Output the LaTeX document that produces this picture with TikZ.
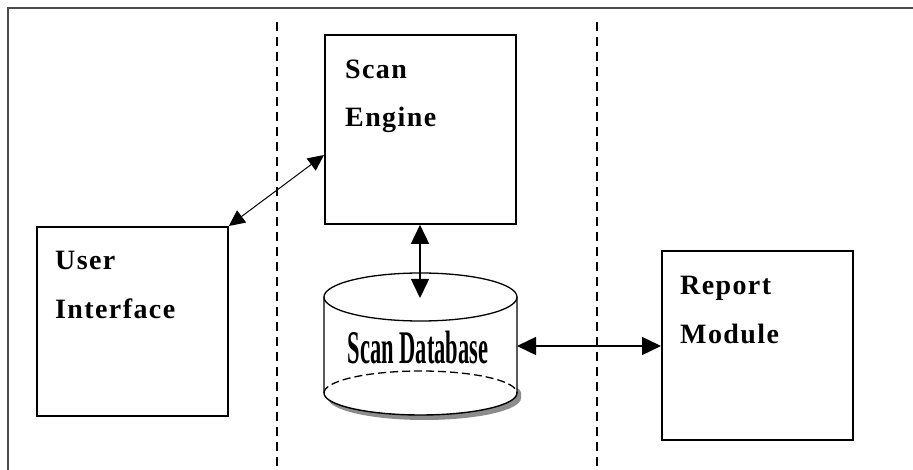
\documentclass[tikz,border=0pt]{standalone}
\usepackage{fontspec}
\setmainfont{Liberation Serif}
\newfontfamily\boxfont[LetterSpace=5]{Liberation Serif}
\usetikzlibrary{arrows.meta}
\newcommand{\boxtext}[1]{\boxfont\fontsize{28}{48}\selectfont\bfseries #1}

\begin{document}
\begin{tikzpicture}[x=1pt,y=-1pt]
    \tikzstyle{module}=[draw, line width=1.8pt, minimum width=191pt, minimum height=189pt, anchor=north west, inner sep=0pt]
    \tikzstyle{label}=[anchor=base west, inner sep=0pt, align=left]
    \tikzstyle{link}=[{Triangle[length=19pt,width=18pt]}-{Triangle[length=19pt,width=18pt]}]
    \tikzstyle{thinlink}=[{Triangle[length=16pt,width=15pt]}-{Triangle[length=16pt,width=15pt]}]
    \tikzstyle{lane}=[dash pattern=on 9pt off 6pt, line width=1.1pt]
    \useasboundingbox (0,0) rectangle (913,470);
    % frame and lanes
    \draw[line width=2.6pt, black!70] (8,472) -- (8,8) -- (915,8);
    \draw[lane] (277,22) -- (277,472);
    \draw[lane] (597,22) -- (597,472);
    % modules
    \node[module] (se) at (324,34) {};
    \node[label] (setext) at (345,79) {\boxtext{Scan}};
    \node[label] (setext2) at (345,127) {\boxtext{Engine}};
    \node[module] (ui) at (36,226) {};
    \node[label] (uitext) at (55,270) {\boxtext{User}};
    \node[label] (uitext2) at (55,319) {\boxtext{Interface}};
    \node[module] (rm) at (661,250) {};
    \node[label] (rmtext) at (680,295) {\boxtext{Report}};
    \node[label] (rmtext2) at (680,343) {\boxtext{Module}};
    % database
    \fill[black!45] (328,398) arc[start angle=180, end angle=360, x radius=96.5pt, y radius=22pt] -- (521,393) arc[start angle=0, end angle=180, x radius=96.5pt, y radius=18pt] -- cycle;
    \fill[white] (324,297) -- (324,393) arc[start angle=180, end angle=360, x radius=96.5pt, y radius=22pt] -- (517,297) -- cycle;
    \draw[line width=1.4pt] (324,297) -- (324,393) arc[start angle=180, end angle=360, x radius=96.5pt, y radius=22pt] -- (517,297);
    \draw[line width=1.3pt, dash pattern=on 8pt off 4pt] (324,393) arc[start angle=180, end angle=0, x radius=96.5pt, y radius=22pt];
    \draw[line width=1.3pt, fill=white] (420.5,297) ellipse[x radius=96.5pt, y radius=24pt];
    \node (db) at (418,347) {\scalebox{1.25}[2.6]{\fontsize{18}{20}\selectfont\bfseries Scan Database}};
    \coordinate (dbtop) at (420,298);
    \coordinate (dbright) at (517,346);
    \coordinate (seleft) at (324,155);
    % connectors
    \draw[thinlink, line width=1pt] (ui.north east) -- (seleft);
    \draw[link, line width=1.5pt] (se.south -| dbtop) -- (dbtop);
    \draw[link, line width=1.5pt] (dbright) -- (dbright -| rm.west);
\end{tikzpicture}
\end{document}
